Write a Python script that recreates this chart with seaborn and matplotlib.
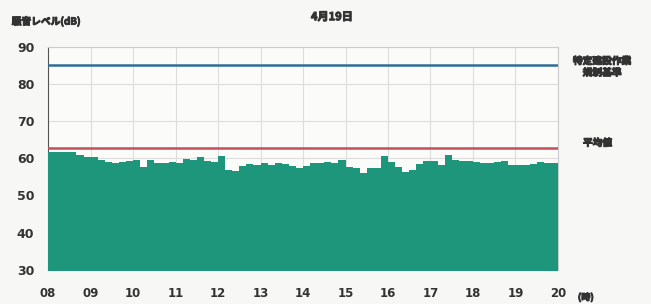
import numpy as np
import pandas as pd
import matplotlib
matplotlib.use("Agg")
import matplotlib.pyplot as plt
import matplotlib.patheffects as pe
import seaborn as sns

# --- data ---
hours = ["08", "09", "10", "11", "12", "13", "14", "15", "16", "17", "18", "19", "20"]
yticks = [30, 40, 50, 60, 70, 80, 90]
levels = [61.7, 61.7, 61.7, 61.6, 60.8, 60.4, 60.2, 59.5, 58.9, 58.8,
          58.9, 59.3, 59.6, 57.6, 59.6, 58.8, 58.6, 59.0, 58.8, 59.9,
          59.6, 60.2, 59.3, 59.0, 60.7, 56.8, 56.5, 58.0, 58.5, 58.3,
          58.6, 58.3, 58.6, 58.4, 57.8, 57.5, 58.0, 58.8, 58.8, 58.9,
          58.8, 59.6, 57.7, 57.5, 56.0, 57.4, 57.4, 60.5, 59.0, 57.7,
          56.3, 56.8, 58.5, 59.3, 59.3, 58.3, 61.0, 59.5, 59.3, 59.3,
          59.0, 58.6, 58.6, 58.9, 59.3, 58.3, 58.3, 58.3, 58.5, 59.1,
          58.7, 58.6]
regulation = 85
mean_level = 62.7
title = "4月19日"

n = len(levels)
times = 8 + (np.arange(n) + 0.5) * (12 / n)
df = pd.DataFrame({"time": times, "level": levels})

sns.set_style("white")
plt.rcParams['font.family'] = ['Noto Sans CJK JP', 'DejaVu Sans']

fig = plt.figure(figsize=(6.51, 3.04), dpi=100)
fig.patch.set_facecolor("#f7f7f5")
ax = fig.add_axes([0.074, 0.112, 0.783, 0.735])
ax.set_facecolor("#fbfbfa")

sns.histplot(data=df, x="time", weights="level", bins=n, binrange=(8, 20),
             element="step", fill=True, color="#1e967c", alpha=1.0,
             linewidth=0, ax=ax, zorder=3)

ax.axhline(regulation, color="#2f6d98", lw=1.8, zorder=4)
ax.axhline(mean_level, color="#c0505a", lw=1.8, zorder=4)

bold = [pe.withStroke(linewidth=0.7, foreground="#333333")]
ax.set_xlim(8, 20)
ax.set_ylim(30, 90)
ax.set_xticks(range(8, 21))
ax.set_xticklabels(hours, fontsize=8.5, fontweight="bold", color="#333333",
                   family=["DejaVu Sans"])
ax.set_yticks(yticks)
ax.set_yticklabels([str(v) for v in yticks], fontsize=9, fontweight="bold",
                   color="#333333", family=["DejaVu Sans"])
ax.tick_params(axis="x", length=0, pad=12)
ax.tick_params(axis="y", length=0, pad=10)
ax.grid(True, color="#dddddd", lw=0.8, zorder=0)
ax.set_axisbelow(True)
ax.set_xlabel("")
ax.set_ylabel("")
for s in ax.spines.values():
    s.set_color("#cccccc")
    s.set_linewidth(0.8)
ax.spines["left"].set_color("#555555")

kw = dict(fontweight="bold", color="#333333", path_effects=bold)
fig.text(0.018, 0.93, "騒音レベル(dB)", fontsize=7, ha="left", va="center", **kw)
fig.text(0.51, 0.945, title, fontsize=8, ha="center", va="center", **kw)
fig.text(0.925, 0.78, "特定建設作業\n規制基準", fontsize=7,
         ha="center", va="center", linespacing=1.2, **kw)
fig.text(0.918, 0.53, "平均値", fontsize=7, ha="center", va="center", **kw)
fig.text(0.9, 0.022, "(時)", fontsize=6.5, ha="center", va="center", **kw)

fig.savefig("out.png", dpi=100, facecolor=fig.get_facecolor())
